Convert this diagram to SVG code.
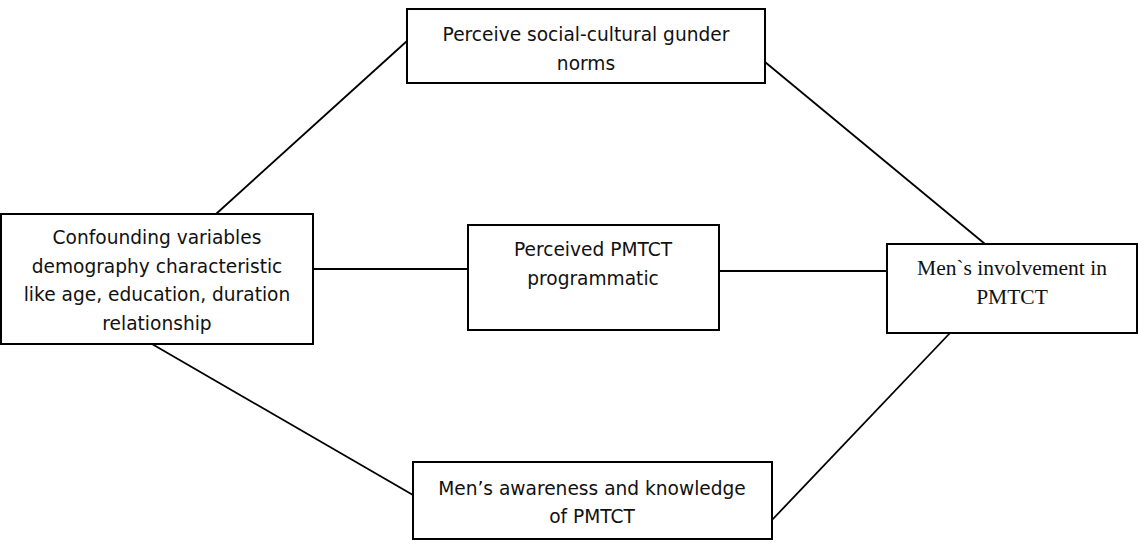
<svg xmlns="http://www.w3.org/2000/svg" width="1138" height="544" viewBox="0 0 1138 544">
<style>
.box{fill:#fff;stroke:#000;stroke-width:2}
.t{font-family:"DejaVu Sans","Liberation Sans",sans-serif;font-size:18.6px;fill:#111;text-anchor:middle}
.s{font-family:"Liberation Serif","DejaVu Serif",serif;font-size:21.5px;fill:#111;text-anchor:middle}
.c{stroke:#000;stroke-width:1.8;fill:none}
</style>
<rect width="1138" height="544" fill="#fff"/>
<g id="connectors">
<line class="c" x1="216" y1="214" x2="407" y2="41"/>
<line class="c" x1="765" y1="62" x2="985" y2="244"/>
<line class="c" x1="313" y1="269" x2="468" y2="269"/>
<line class="c" x1="719" y1="271" x2="887" y2="271"/>
<line class="c" x1="152" y1="344" x2="413" y2="495"/>
<line class="c" x1="772" y1="520" x2="950" y2="333"/>
</g>
<g id="confounding">
<rect class="box" x="1" y="214" width="312" height="130"/>
<text class="t" x="157" y="244">Confounding variables</text>
<text class="t" x="157" y="273">demography characteristic</text>
<text class="t" x="157" y="301">like age, education, duration</text>
<text class="t" x="157" y="330">relationship</text>
</g>
<g id="norms">
<rect class="box" x="407" y="9" width="358" height="74"/>
<text class="t" x="586" y="41">Perceive social-cultural gunder</text>
<text class="t" x="586" y="70">norms</text>
</g>
<g id="programmatic">
<rect class="box" x="468" y="225" width="251" height="105"/>
<text class="t" x="593" y="256">Perceived PMTCT</text>
<text class="t" x="593" y="285">programmatic</text>
</g>
<g id="involvement">
<rect class="box" x="887" y="244" width="250" height="89"/>
<text class="s" x="1012" y="275">Men`s involvement in</text>
<text class="s" x="1012" y="304">PMTCT</text>
</g>
<g id="awareness">
<rect class="box" x="413" y="462" width="359" height="77"/>
<text class="t" x="592" y="495">Men’s awareness and knowledge</text>
<text class="t" x="592" y="523">of PMTCT</text>
</g>
</svg>
